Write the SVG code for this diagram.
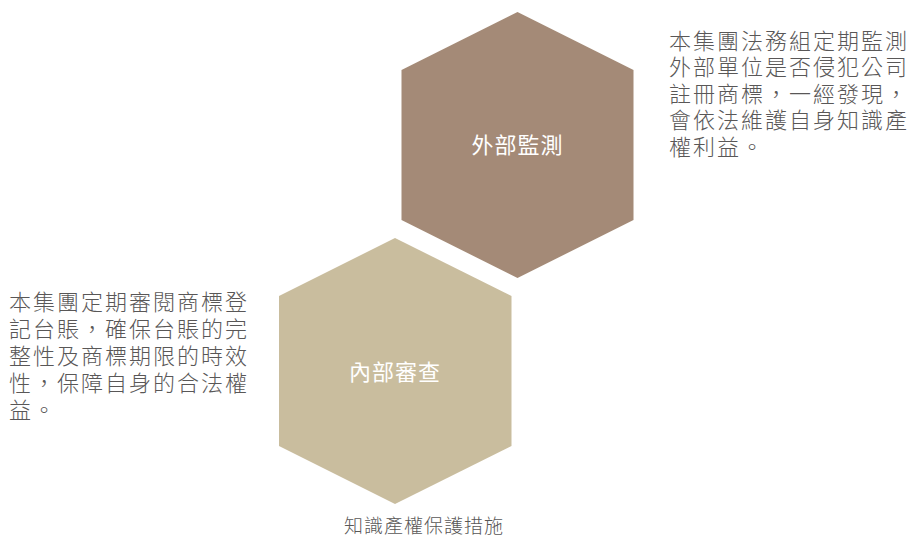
<svg xmlns="http://www.w3.org/2000/svg" width="912" height="535" viewBox="0 0 912 535">
<style>
.hex1{fill:#A48A77;}
.hex2{fill:#C9BD9E;}
.lbl{font-family:"Noto Sans CJK TC","Noto Sans CJK SC",sans-serif;font-size:22px;font-weight:400;fill:#FFFFFF;text-anchor:middle;letter-spacing:1px;}
.para{font-family:"Noto Sans CJK TC","Noto Sans CJK SC",sans-serif;font-size:22px;font-weight:300;fill:#595757;letter-spacing:2px;}
.cap{font-family:"Noto Sans CJK TC","Noto Sans CJK SC",sans-serif;font-size:19px;font-weight:300;fill:#595757;text-anchor:middle;letter-spacing:1px;}
</style>
<rect width="912" height="535" fill="#FFFFFF"/>
<g id="connectors"></g>
<g id="node-external">
<polygon class="hex1" points="517.5,12 633.5,70 633.5,220 517.5,278 401.5,220 401.5,70"/>
<text class="lbl" x="517.5" y="153">外部監測</text>
</g>
<g id="node-internal">
<polygon class="hex2" points="395,238 511.5,296 511.5,446 395,504 279,446 279,296"/>
<text class="lbl" x="395" y="380">內部審查</text>
</g>
<g id="text-external">
<text class="para" x="669" y="48.5">本集團法務組定期監測</text>
<text class="para" x="669" y="75">外部單位是否侵犯公司</text>
<text class="para" x="669" y="101.5">註冊商標，一經發現，</text>
<text class="para" x="669" y="128">會依法維護自身知識產</text>
<text class="para" x="669" y="154.5">權利益。</text>
</g>
<g id="text-internal">
<text class="para" x="9" y="310">本集團定期審閱商標登</text>
<text class="para" x="9" y="337">記台賬，確保台賬的完</text>
<text class="para" x="9" y="364">整性及商標期限的時效</text>
<text class="para" x="9" y="391">性，保障自身的合法權</text>
<text class="para" x="9" y="418">益。</text>
</g>
<g id="caption">
<text class="cap" x="424" y="533">知識產權保護措施</text>
</g>
</svg>
